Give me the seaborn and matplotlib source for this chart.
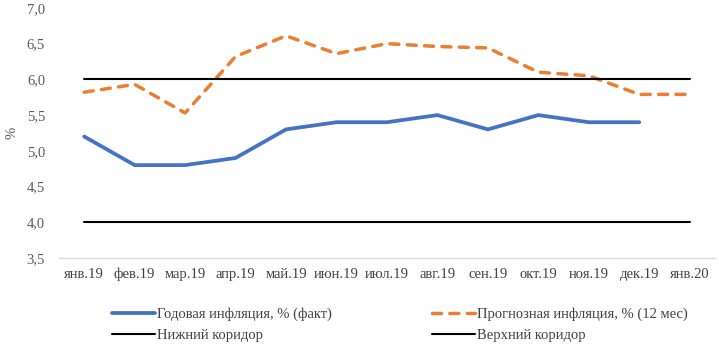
import matplotlib
matplotlib.use("Agg")
import matplotlib.pyplot as plt
import seaborn as sns
import pandas as pd

months = ["янв.19", "фев.19", "мар.19", "апр.19", "май.19", "июн.19", "июл.19",
          "авг.19", "сен.19", "окт.19", "ноя.19", "дек.19", "янв.20"]
actual = [5.2, 4.8, 4.8, 4.9, 5.3, 5.4, 5.4, 5.5, 5.3, 5.5, 5.4, 5.4]
forecast = [5.82, 5.93, 5.53, 6.32, 6.61, 6.36, 6.5, 6.46, 6.44, 6.1, 6.05, 5.79, 5.79]
lower = [4.0] * 13
upper = [6.0] * 13

sns.set_theme(style="white")
plt.rcParams["font.family"] = ["Liberation Serif", "DejaVu Serif"]

fig = plt.figure(figsize=(7.19, 3.44), dpi=100)
ax = fig.add_axes([0.082, 0.25, 0.9124, 0.727])

idx = list(range(len(months)))
sns.lineplot(x=idx[:len(actual)], y=actual, ax=ax, color="#4472C4", linewidth=2.7,
             solid_capstyle="round", label="Годовая инфляция, % (факт)")
sns.lineplot(x=idx, y=lower, ax=ax, color="black", linewidth=1.5,
             label="Нижний коридор")
sns.lineplot(x=idx, y=forecast, ax=ax, color="#ED7D31", linewidth=2.5,
             linestyle=(0, (2.6, 2.4)), dash_capstyle="round",
             label="Прогнозная инфляция, % (12 мес)")
sns.lineplot(x=idx, y=upper, ax=ax, color="black", linewidth=1.5,
             label="Верхний коридор")

ax.set_xlim(-0.5, len(months) - 0.5)
ax.set_ylim(3.5, 7.0)
ax.set_yticks([3.5, 4.0, 4.5, 5.0, 5.5, 6.0, 6.5, 7.0])
ax.set_yticklabels([f"{v:.1f}".replace(".", ",") for v in ax.get_yticks()])
ax.set_xticks(idx)
ax.set_xticklabels(months)
ax.set_xticks([i - 0.5 for i in range(len(months) + 1)], minor=True)
ax.tick_params(axis="x", which="major", length=0, pad=7, labelsize=10.5, labelcolor="#404040")
ax.tick_params(axis="x", which="minor", length=4, color="#D9D9D9", direction="out")
ax.tick_params(axis="y", length=0, pad=10, labelsize=10.5, labelcolor="#595959")
for side in ["top", "right", "left"]:
    ax.spines[side].set_visible(False)
ax.spines["bottom"].set_color("#D9D9D9")
ax.spines["bottom"].set_linewidth(1.0)
ax.set_ylabel("%", fontsize=10.5, color="#595959", labelpad=6)
ax.set_xlabel("")

handles, labels = ax.get_legend_handles_labels()
ax.get_legend().remove()
fig.legend(handles, labels, ncol=2, loc="upper left", bbox_to_anchor=(0.156, 0.106),
           frameon=False, fontsize=10.5, labelcolor="#404040",
           handlelength=2.95, handletextpad=0.1, columnspacing=6.9,
           labelspacing=0.55, borderaxespad=0, borderpad=0)

fig.savefig("out.png", dpi=100)
